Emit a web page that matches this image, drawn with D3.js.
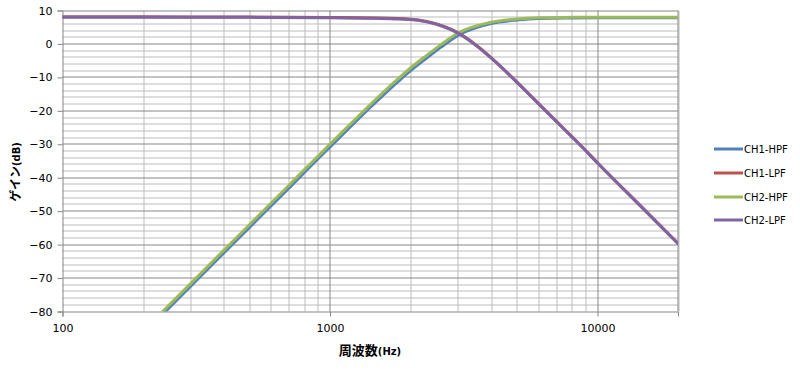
<!DOCTYPE html>
<html>
<head>
<meta charset="utf-8">
<script src="https://cdn.jsdelivr.net/npm/d3@7"></script>
<style>
    body { margin: 0; background: #fff; }
    text { font-family: "DejaVu Sans", Verdana, sans-serif; }
</style>
</head>
<body>
<div id="chart"></div>
<script>
// frequencies (Hz)
let hpfFreq = [237, 300, 400, 500, 600, 700, 800, 1000, 1200, 1400, 1600, 1800, 2000, 2300, 2600, 3000, 3500, 4000, 5000, 6000, 8000, 10000, 20000];
let ch2Hpf  = [-80, -71.8, -61.8, -54.05, -47.7, -42.4, -37.7, -30.0, -23.7, -18.5, -14.1, -10.4, -7.2, -3.4, -0.2, 3.2, 5.3, 6.5, 7.45, 7.8, 7.95, 8.0, 8.0];
let ch1Hpf  = [-80.8, -72.6, -62.6, -54.85, -48.5, -43.2, -38.5, -30.8, -24.5, -19.3, -14.9, -11.2, -8.0, -4.2, -0.95, 2.5, 4.8, 6.1, 7.15, 7.6, 7.75, 7.8, 7.8];

let lpfFreq = [100, 200, 500, 1000, 1500, 2000, 2300, 2500, 2800, 3000, 3300, 3600, 4000, 5000, 6000, 7000, 8000, 9000, 10000, 15000, 20000];
let ch2Lpf  = [8.0, 8.0, 7.95, 7.8, 7.65, 7.3, 6.6, 5.9, 4.45, 3.3, 1.2, -1.1, -4.2, -11.5, -17.8, -23.1, -27.7, -31.8, -35.6, -49.7, -59.7];
let ch1Lpf  = [8.1, 8.1, 8.05, 7.9, 7.75, 7.4, 6.7, 6.0, 4.55, 3.4, 1.3, -1.0, -4.1, -11.4, -17.7, -23.0, -27.6, -31.7, -35.5, -49.6, -59.6];

let seriesNames = ["CH1-HPF", "CH1-LPF", "CH2-HPF", "CH2-LPF"];
let seriesColors = ["#4f81bd", "#c0504d", "#9bbb59", "#8064a2"];

let xTickLabels = [100, 1000, 10000];
let yTicks = [10, 0, -10, -20, -30, -40, -50, -60, -70, -80];

let margin = {top: 10.5, left: 62.5};
let width = 615.5, height = 301;

let svg = d3.select("#chart").append("svg")
    .attr("width", 800)
    .attr("height", 372);

let g = svg.append("g")
    .attr("transform", "translate(" + margin.left + "," + margin.top + ")");

let x = d3.scaleLog().domain([100, 20000]).range([0, width]);
let y = d3.scaleLinear().domain([-80, 10]).range([height, 0]);

// minor grid
let minorX = [];
[100, 1000, 10000].forEach(dec => {
    for (let k = 2; k <= 9; k++) {
        if (dec * k <= 20000) minorX.push(dec * k);
    }
});
let minorY = d3.range(-80, 11, 2).filter(v => v % 10 !== 0);

g.append("g").selectAll("line")
    .data(minorX)
    .join("line")
    .attr("x1", d => Math.round(x(d)) + 0.5).attr("x2", d => Math.round(x(d)) + 0.5)
    .attr("y1", 0).attr("y2", height)
    .attr("stroke", "#bcbcbc").attr("stroke-width", 1);

g.append("g").selectAll("line")
    .data(minorY)
    .join("line")
    .attr("x1", 0).attr("x2", width)
    .attr("y1", d => Math.round(y(d) - 0.5) + 0.5).attr("y2", d => Math.round(y(d) - 0.5) + 0.5)
    .attr("stroke", "#bcbcbc").attr("stroke-width", 1);

// major grid
g.append("g").selectAll("line")
    .data([1000, 10000])
    .join("line")
    .attr("x1", d => Math.round(x(d)) + 0.5).attr("x2", d => Math.round(x(d)) + 0.5)
    .attr("y1", 0).attr("y2", height)
    .attr("stroke", "#868686").attr("stroke-width", 1);

g.append("g").selectAll("line")
    .data(yTicks.filter(v => v !== -80))
    .join("line")
    .attr("x1", 0).attr("x2", width)
    .attr("y1", d => Math.round(y(d) - 0.5) + 0.5).attr("y2", d => Math.round(y(d) - 0.5) + 0.5)
    .attr("stroke", "#868686").attr("stroke-width", 1);

// right border
g.append("line")
    .attr("x1", width).attr("x2", width)
    .attr("y1", 0).attr("y2", height)
    .attr("stroke", "#868686");

// axes
let yAxis = d3.axisLeft(y).tickValues(yTicks).tickSize(5).tickPadding(5).tickFormat(d3.format("d"));
let xAxis = d3.axisBottom(x).tickValues(xTickLabels).tickSize(5).tickPadding(8).tickFormat(d3.format("d"));

let yG = g.append("g").call(yAxis);
let xG = g.append("g").attr("transform", "translate(0," + height + ")").call(xAxis);

[yG, xG].forEach(ax => {
    ax.select(".domain").attr("stroke", "#868686");
    ax.selectAll(".tick line").attr("stroke", "#868686");
    ax.selectAll("text").attr("font-size", "11px").attr("fill", "#000")
        .style("font-family", "'DejaVu Sans', Verdana, sans-serif");
});

// curves
let line = d3.line()
    .x(d => x(d[0]))
    .y(d => y(d[1]))
    .curve(d3.curveMonotoneX);

let curves = [
    {name: "CH1-HPF", f: hpfFreq, v: ch1Hpf},
    {name: "CH1-LPF", f: lpfFreq, v: ch1Lpf},
    {name: "CH2-HPF", f: hpfFreq, v: ch2Hpf},
    {name: "CH2-LPF", f: lpfFreq, v: ch2Lpf}
];

svg.append("defs").append("clipPath").attr("id", "clip")
    .append("rect").attr("x", 0).attr("y", -3).attr("width", width).attr("height", height + 3);

g.append("g").attr("clip-path", "url(#clip)")
    .selectAll("path")
    .data(curves)
    .join("path")
    .attr("d", d => line(d.f.map((f, i) => [f, d.v[i]])))
    .attr("fill", "none")
    .attr("stroke", (d, i) => seriesColors[i])
    .attr("stroke-width", 3)
    .attr("stroke-linejoin", "round")
    .attr("stroke-linecap", "round");

// axis titles
let xTitle = svg.append("text")
    .attr("x", 370).attr("y", 355)
    .attr("text-anchor", "middle")
    .attr("font-weight", "bold");
xTitle.append("tspan").attr("font-size", "13px")
    .style("font-family", "'Noto Sans CJK JP', sans-serif").text("周波数");
xTitle.append("tspan").attr("font-size", "10px").text("(Hz)");

let yTitle = svg.append("text")
    .attr("transform", "translate(20,172) rotate(-90)")
    .attr("text-anchor", "middle")
    .attr("font-weight", "bold");
yTitle.append("tspan").attr("font-size", "12px")
    .style("font-family", "'Noto Sans CJK JP', sans-serif").text("ゲイン");
yTitle.append("tspan").attr("font-size", "10px").text("(dB)");

// legend
let legendY = [149, 173, 197, 220];
let legend = svg.append("g").selectAll("g")
    .data(seriesNames)
    .join("g")
    .attr("transform", (d, i) => "translate(714," + legendY[i] + ")");

legend.append("line")
    .attr("x1", 0).attr("x2", 29)
    .attr("stroke", (d, i) => seriesColors[i])
    .attr("stroke-width", 3);

legend.append("text")
    .attr("x", 30).attr("y", 4)
    .attr("font-size", "10px")
    .text(d => d);
</script>
</body>
</html>
